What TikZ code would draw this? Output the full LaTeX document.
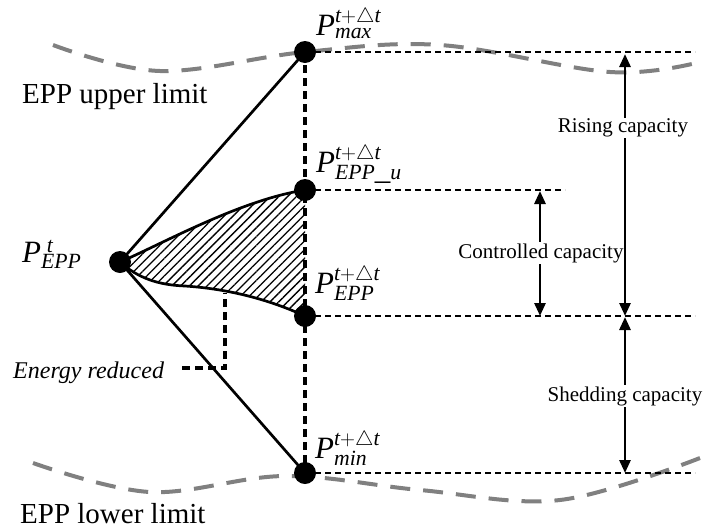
\documentclass[tikz,border=0pt]{standalone}
\usepackage{fontspec}
\setmainfont{Liberation Serif}
\usetikzlibrary{arrows.meta,patterns.meta}
\pgfdeclarelayer{background}
\pgfsetlayers{background,main}
\newcommand{\plevel}[2]{$\mathit{P}^{\mathit{#1}}_{\mathit{#2}}$}
\tikzset{
  limitline/.style={draw={rgb,255:red,128;green,128;blue,128}, line width=4pt,
    dash pattern=on 20pt off 13pt, line cap=butt},
  guide/.style={line width=1.1pt, dash pattern=on 6pt off 4pt},
  bolddash/.style={line width=3.3pt, dash pattern=on 8pt off 5pt},
  edge/.style={line width=2.7pt},
  dot/.style={circle, fill=black, inner sep=0pt, minimum size=22pt},
  span/.style={line width=2.8pt,
    {Triangle[length=13pt,width=11pt]}-{Triangle[length=13pt,width=11pt]}},
  caplabel/.style={fill=white, inner sep=1pt, font=\fontsize{21}{24}\selectfont},
  plabel/.style={anchor=base west, inner sep=0pt, font=\fontsize{31}{36}\selectfont},
  limitlabel/.style={anchor=base west, inner sep=0pt, font=\fontsize{29}{34}\selectfont},
}
\begin{document}
\begin{tikzpicture}[x=1pt,y=-1pt]
\useasboundingbox (0,0) rectangle (704,528);

% power levels
\node[dot] (p0)   at (120,262) {};
\node[dot] (pmax) at (305,52)  {};
\node[dot] (epu)  at (305,190) {};
\node[dot] (epp)  at (305,316) {};
\node[dot] (pmin) at (305,473) {};

% ends of the guide lines
\coordinate (gmax) at (695,52);
\coordinate (gepu) at (565,190);
\coordinate (gepp) at (695,316);
\coordinate (gmin) at (695,473);

\begin{pgfonlayer}{background}
  % fluctuating limits
  \draw[limitline] plot[smooth, tension=0.6] coordinates
    {(53,45) (160,71) (305,52) (440,45) (610,72) (700,62)};
  \draw[limitline] plot[smooth, tension=0.6] coordinates
    {(33,463) (150,492) (285,476) (420,490) (560,500) (700,458)};
  % envelope
  \draw[edge] (p0.center) -- (pmax.center);
  \draw[edge] (p0.center) -- (pmin.center);
  \draw[bolddash] (pmax.center) -- (pmin.center);
  % reduced energy region
  \path[pattern={Lines[angle=45,distance=6.2pt,line width=1.3pt]}]
    (p0.center) .. controls (160,245) and (240,200) .. (epu.center)
    -- (epp.center) .. controls (270,300) and (230,289) .. (185,286)
    .. controls (158,285) and (138,278) .. (p0.center);
  \draw[edge] (p0.center) .. controls (160,245) and (240,200) .. (epu.center);
  \draw[edge] (p0.center) .. controls (138,278) and (158,285) .. (185,286)
    .. controls (230,289) and (270,300) .. (epp.center);
  % guide lines
  \draw[guide] (pmax.center) -- (gmax);
  \draw[guide] (epu.center) -- (gepu);
  \draw[guide] (epp.center) -- (gepp);
  \draw[guide] (pmin.center) -- (gmin);
\end{pgfonlayer}

% labels of the levels
\node[plabel] (lmax) at (316,35)  {\plevel{t+\triangle t}{max}};
\node[plabel] (lepu) at (316,172) {\plevel{t+\triangle t}{EPP\_u}};
\node[plabel] (lepp) at (315,293) {\plevel{t+\triangle t}{EPP}};
\node[plabel] (lmin) at (315,458) {\plevel{t+\triangle t}{min}};
\node[plabel] (lp0)  at (22,262)  {\plevel{\;t}{EPP}};

\node[limitlabel] (up) at (22,103)  {EPP upper limit};
\node[limitlabel] (lo) at (20,523)  {EPP lower limit};

% energy reduced marker
\node[anchor=base west, inner sep=0pt, font=\fontsize{24}{28}\selectfont\itshape]
  (er) at (13,378) {Energy reduced};
\coordinate (erl) at (182,368);
\coordinate (erc) at (225,368);
\coordinate (ert) at (225,293);
\draw[bolddash] (erl) -- (erc) -- (ert);

% capacities
\coordinate (ctop) at (540,191);
\coordinate (cbot) at (540,316);
\draw[span] (ctop) -- (cbot);
\node[caplabel] (cl) at (541,253) {Controlled capacity};

\coordinate (rtop) at (625,54);
\coordinate (rbot) at (625,316);
\draw[span] (rtop) -- (rbot);
\node[caplabel] (rl) at (623,128) {Rising capacity};

\coordinate (stop) at (625,317);
\coordinate (sbot) at (625,473);
\draw[span] (stop) -- (sbot);
\node[caplabel] (sl) at (625,396) {Shedding capacity};
\end{tikzpicture}
\end{document}
